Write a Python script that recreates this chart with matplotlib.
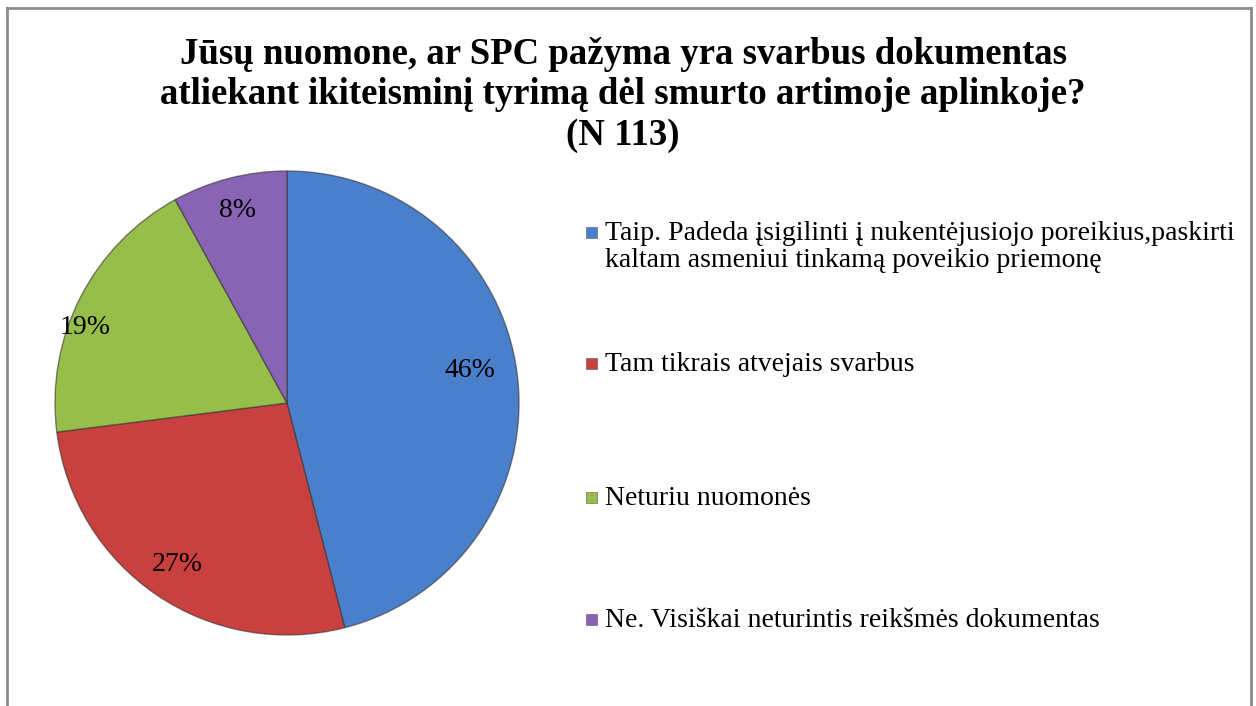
import matplotlib
matplotlib.use("Agg")
import matplotlib.pyplot as plt
from matplotlib.patches import Rectangle
from matplotlib.lines import Line2D
import numpy as np

title = "Jūsų nuomone, ar SPC pažyma yra svarbus dokumentas\natliekant ikiteisminį tyrimą dėl smurto artimoje aplinkoje?\n(N 113)"
categories = [
    "Taip. Padeda įsigilinti į nukentėjusiojo poreikius,paskirti\nkaltam asmeniui tinkamą poveikio priemonę",
    "Tam tikrais atvejais svarbus",
    "Neturiu nuomonės",
    "Ne. Visiškai neturintis reikšmės dokumentas",
]
values = [46, 27, 19, 8]
pct_labels = ["46%", "27%", "19%", "8%"]
colors = ["#4A7FCC", "#C8413F", "#97BE4A", "#8A64B4"]

W, H = 1256, 706
fig = plt.figure(figsize=(W / 100, H / 100), dpi=100)
fig.patch.set_facecolor("white")
plt.rcParams["font.family"] = ["Liberation Serif", "DejaVu Serif"]

fx = lambda px: px / W
fy = lambda py: 1 - py / H
for xs, ys in [((7, 7), (8, 706)), ((7, 1251), (8, 8)), ((1251, 1251), (8, 706))]:
    fig.add_artist(Line2D([fx(x) for x in xs], [fy(y) for y in ys],
                          color="#8C8C8C", lw=2.0, transform=fig.transFigure))

fig.text(fx(623), fy(95), title, ha="center", va="center", fontsize=26.5,
         fontweight="bold", linespacing=1.2)

# pie
cx, cy, R = 287, 403, 232
ax = fig.add_axes([fx(cx - R), fy(cy + R), 2 * R / W, 2 * R / H])
wedges, _ = ax.pie(values, colors=colors, startangle=90, counterclock=False,
                   radius=1.0, wedgeprops=dict(linewidth=1.0,
                                               edgecolor=(0.2, 0.2, 0.2, 0.6)))
ax.set_xlim(-1.0, 1.0)
ax.set_ylim(-1.0, 1.0)
ax.set_aspect("equal")
ax.axis("off")

label_dist = [0.80, 0.84, 0.93, 0.855]
label_shift = [2.8, 0.0, 6.5, 0.0]
for w, lab, d, s in zip(wedges, pct_labels, label_dist, label_shift):
    ang = np.deg2rad((w.theta1 + w.theta2) / 2 + s)
    ax.text(d * np.cos(ang), d * np.sin(ang), lab, ha="center", va="center",
            fontsize=20, color="black")

leg_y = [232, 363, 497, 619]
sq = 11
for lab, c, y in zip(categories, colors, leg_y):
    fig.add_artist(Rectangle((fx(586), fy(y + sq / 2)), sq / W, sq / H,
                             facecolor=c, edgecolor="#555555", lw=0.4,
                             transform=fig.transFigure))
    fig.text(fx(605), fy(y - 11), lab, ha="left", va="top", fontsize=20,
             linespacing=1.13)

fig.savefig("out.png", dpi=100, facecolor="white")
